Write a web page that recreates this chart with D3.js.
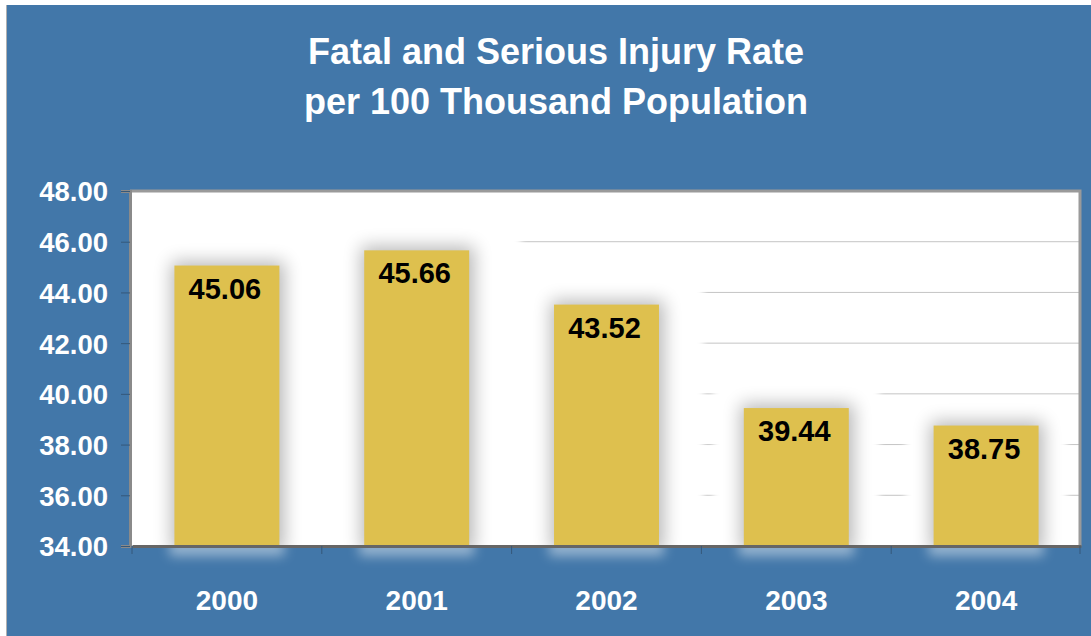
<!DOCTYPE html>
<html>
<head>
<meta charset="utf-8">
<script src="https://cdn.jsdelivr.net/npm/d3@7"></script>
<style>
  html, body { margin: 0; padding: 0; background: #fff; }
  svg { display: block; }
  text { font-family: "Liberation Sans", Arial, sans-serif; font-weight: bold; }
</style>
</head>
<body>
<svg id="chart"></svg>
<script>
const years = ['2000', '2001', '2002', '2003', '2004']
const rates = [45.06, 45.66, 43.52, 39.44, 38.75]
const yTicks = [34, 36, 38, 40, 42, 44, 46, 48]
const titleLines = ['Fatal and Serious Injury Rate', 'per 100 Thousand Population']

const W = 1091, H = 636
const m = {left: 130, right: 1080, top: 191, bottom: 546}

const svg = d3.select('#chart').attr('width', W).attr('height', H)

// filters for the soft glow / shadow effects
const defs = svg.append('defs')
defs.append('filter').attr('id', 'glow').attr('x', '-50%').attr('y', '-50%').attr('width', '200%').attr('height', '200%')
  .append('feGaussianBlur').attr('stdDeviation', 3)
defs.append('filter').attr('id', 'shadow').attr('x', '-50%').attr('y', '-50%').attr('width', '200%').attr('height', '200%')
  .append('feGaussianBlur').attr('stdDeviation', 9)
defs.append('filter').attr('id', 'refl').attr('x', '-50%').attr('y', '-100%').attr('width', '200%').attr('height', '300%')
  .append('feGaussianBlur').attr('stdDeviation', 6)
defs.append('clipPath').attr('id', 'plotclip').append('rect')
  .attr('x', m.left).attr('y', m.top).attr('width', m.right - m.left).attr('height', m.bottom - m.top)
defs.append('clipPath').attr('id', 'belowclip').append('rect')
  .attr('x', m.left).attr('y', m.bottom).attr('width', m.right - m.left).attr('height', 40)

// background
svg.append('rect').attr('x', 6).attr('y', 5).attr('width', W - 6).attr('height', H - 5).attr('fill', '#4277a9')
svg.append('line').attr('x1', 6.5).attr('x2', 6.5).attr('y1', 5).attr('y2', H).attr('stroke', '#b0b0b0').attr('stroke-width', 1)

// scales
const x = d3.scaleBand().domain(years).range([132, 1081]).paddingInner(0.447).paddingOuter(0.2235)
const y = d3.scaleLinear().domain([34, 48]).range([m.bottom, m.top])

// plot area
svg.append('rect').attr('x', m.left).attr('y', m.top).attr('width', m.right - m.left).attr('height', m.bottom - m.top).attr('fill', '#fff')

// gridlines
svg.append('g').selectAll('line').data(yTicks.slice(1, -1)).join('line')
  .attr('x1', m.left).attr('x2', m.right)
  .attr('y1', d => y(d)).attr('y2', d => y(d))
  .attr('stroke', '#c4c4c4').attr('stroke-width', 1)

const plot = svg.append('g').attr('clip-path', 'url(#plotclip)')

// white glow hiding the gridlines around each bar, wider for taller bars
const spread = d => 12 + 0.135 * (m.bottom - y(d))
plot.selectAll('.glow').data(rates).join('rect')
  .attr('x', (d, i) => x(years[i]) - spread(d))
  .attr('y', d => y(d) - spread(d) * 0.8)
  .attr('width', d => x.bandwidth() + 2 * spread(d))
  .attr('height', d => m.bottom - y(d) + spread(d) + 20)
  .attr('fill', '#fff')
  .attr('filter', 'url(#glow)')

// grey shadow
plot.selectAll('.shadow').data(rates).join('rect')
  .attr('x', (d, i) => x(years[i]) - 3)
  .attr('y', d => y(d) - 4)
  .attr('width', x.bandwidth() + 8)
  .attr('height', d => m.bottom - y(d) + 10)
  .attr('fill', '#000').attr('opacity', 0.28)
  .attr('filter', 'url(#shadow)')

// light reflection under the axis
svg.append('g').attr('clip-path', 'url(#belowclip)')
  .selectAll('rect').data(rates).join('rect')
  .attr('x', (d, i) => x(years[i]) - 5)
  .attr('y', m.bottom - 6)
  .attr('width', x.bandwidth() + 10)
  .attr('height', 16)
  .attr('fill', '#fff').attr('opacity', 0.45)
  .attr('filter', 'url(#refl)')

// bars
svg.append('g').selectAll('rect').data(rates).join('rect')
  .attr('x', (d, i) => x(years[i]))
  .attr('y', d => y(d))
  .attr('width', x.bandwidth())
  .attr('height', d => m.bottom - y(d))
  .attr('fill', '#dec04e')

// value labels
svg.append('g').selectAll('text').data(rates).join('text')
  .attr('x', (d, i) => x(years[i]) + x.bandwidth() / 2 - 2)
  .attr('y', d => y(d) + 33)
  .attr('text-anchor', 'middle')
  .attr('font-size', 29)
  .attr('fill', '#000')
  .text(d => d.toFixed(2))

// frame: top and right border
svg.append('path')
  .attr('d', `M${m.left},${m.top} H${m.right} V${m.bottom}`)
  .attr('fill', 'none').attr('stroke', '#9a9a9a').attr('stroke-width', 3)

// y axis
const yAxis = d3.axisLeft(y).tickValues(yTicks).tickFormat(d => d.toFixed(2)).tickSize(9).tickPadding(13)
const gy = svg.append('g').attr('transform', `translate(${m.left},0)`).call(yAxis)
gy.select('.domain').attr('stroke', '#8a8a8a').attr('stroke-width', 3)
gy.selectAll('.tick line').attr('stroke', '#35587a').attr('stroke-width', 1)
gy.selectAll('.tick text').attr('fill', '#fff').attr('font-size', 27.5)
  .attr('font-family', '"Liberation Sans", Arial, sans-serif').attr('font-weight', 'bold').attr('dy', '0.36em')

// x axis
const xAxis = d3.axisBottom(x).tickSize(0).tickPadding(44)
const gx = svg.append('g').attr('transform', `translate(0,${m.bottom})`).call(xAxis)
gx.select('.domain').attr('stroke', '#666').attr('stroke-width', 3)
gx.selectAll('.tick text').attr('fill', '#fff').attr('font-size', 28)
  .attr('font-family', '"Liberation Sans", Arial, sans-serif').attr('font-weight', 'bold')
// category separators
svg.append('g').selectAll('line').data(years.concat(['end'])).join('line')
  .attr('x1', (d, i) => i < years.length ? x(d) - x.step() * x.paddingInner() / 2 : m.right)
  .attr('x2', (d, i) => i < years.length ? x(d) - x.step() * x.paddingInner() / 2 : m.right)
  .attr('y1', m.bottom).attr('y2', m.bottom + 8)
  .attr('stroke', '#35587a').attr('stroke-width', 1)

// title
svg.append('g').selectAll('text').data(titleLines).join('text')
  .attr('x', 556).attr('y', (d, i) => 64 + i * 50)
  .attr('text-anchor', 'middle')
  .attr('font-size', 36)
  .attr('fill', '#fff')
  .text(d => d)
</script>
</body>
</html>
